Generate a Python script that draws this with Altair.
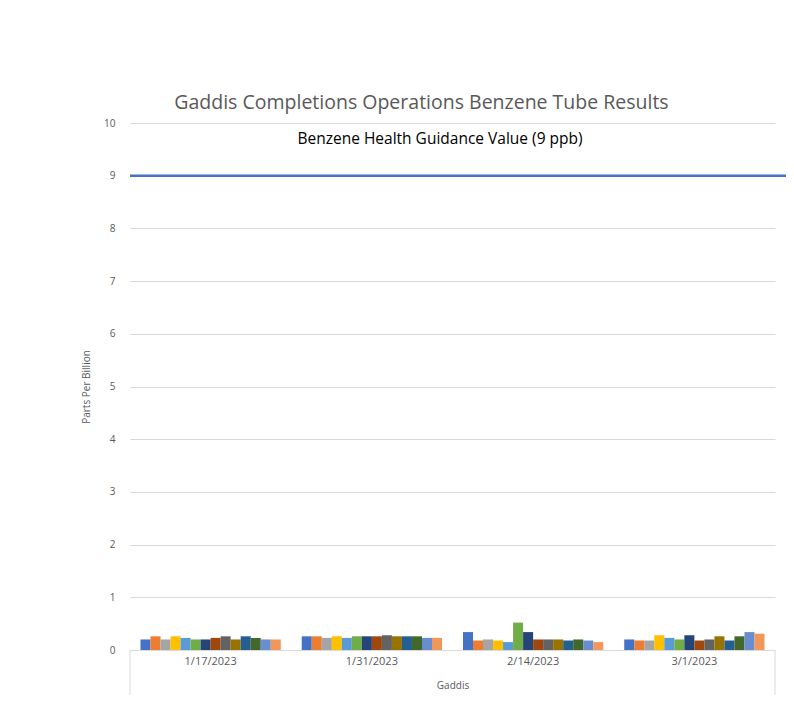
import altair as alt
import pandas as pd

dates = ["1/17/2023", "1/31/2023", "2/14/2023", "3/1/2023"]
series = [f"Tube {i}" for i in range(1, 15)]
colors = ["#4472C4", "#ED7D31", "#A5A5A5", "#FFC000", "#5B9BD5", "#70AD47",
          "#264478", "#9E480E", "#636363", "#997300", "#255E91", "#43682B",
          "#698ED0", "#F1975A"]
vals_0117 = [0.20, 0.26, 0.20, 0.26, 0.23, 0.20, 0.20, 0.23, 0.26, 0.20, 0.26, 0.23, 0.20, 0.20]
vals_0131 = [0.26, 0.26, 0.23, 0.26, 0.23, 0.26, 0.26, 0.26, 0.28, 0.26, 0.26, 0.26, 0.23, 0.23]
vals_0214 = [0.34, 0.18, 0.20, 0.18, 0.15, 0.52, 0.34, 0.20, 0.20, 0.20, 0.18, 0.20, 0.18, 0.15]
vals_0301 = [0.20, 0.18, 0.18, 0.28, 0.23, 0.20, 0.28, 0.18, 0.20, 0.26, 0.18, 0.26, 0.34, 0.31]
guidance_value = 9
guidance_label = "Benzene Health Guidance Value (9 ppb)"
y_ticks = list(range(0, 11))

rows = []
for d, vals in zip(dates, [vals_0117, vals_0131, vals_0214, vals_0301]):
    for s, v in zip(series, vals):
        rows.append({"date": d, "series": s, "ppb": v})
df = pd.DataFrame(rows)

FONT = "Open Sans"
GRAY = "#595959"
W, H = 645, 527

xenc = alt.X("date:N", sort=dates,
             scale=alt.Scale(paddingInner=0.13, paddingOuter=0.065),
             axis=alt.Axis(labelAngle=0, ticks=False, domainColor="#d9d9d9",
                           labelPadding=5, labelFontSize=11, labelColor=GRAY,
                           labelFont=FONT, title="Gaddis", titleFont=FONT,
                           titleFontSize=10, titleFontWeight="normal",
                           titleColor=GRAY, titleY=30))
yenc = alt.Y("ppb:Q", scale=alt.Scale(domain=[0, 10]),
             axis=alt.Axis(values=y_ticks, domain=False, ticks=False,
                           gridColor="#d9d9d9", labelPadding=15,
                           labelFontSize=10, labelColor=GRAY, labelFont=FONT,
                           title="Parts Per Billion", titleFont=FONT,
                           titleFontSize=10, titleFontWeight="normal",
                           titleColor=GRAY, titlePadding=12))

bars = alt.Chart(df).mark_bar().encode(
    x=xenc,
    xOffset=alt.XOffset("series:N", sort=series,
                        scale=alt.Scale(paddingInner=0, paddingOuter=0)),
    y=yenc,
    color=alt.Color("series:N", sort=series,
                    scale=alt.Scale(domain=series, range=colors), legend=None),
)

line9 = alt.Chart().mark_rule(color="#4472C4", strokeWidth=2.5).encode(
    y=alt.datum(guidance_value), x=alt.value(0), x2=alt.value(W + 22))

label = alt.Chart().mark_text(font=FONT, fontSize=15.5, color="#000000").encode(
    y=alt.datum(9.7), x=alt.value(310), text=alt.datum(guidance_label))

edge_l = alt.Chart().mark_rule(color="#d9d9d9").encode(
    x=alt.value(0), y=alt.value(H), y2=alt.value(H + 45))
edge_r = alt.Chart().mark_rule(color="#d9d9d9").encode(
    x=alt.value(W), y=alt.value(H), y2=alt.value(H + 45))

chart = alt.layer(bars, line9, label, edge_l, edge_r).properties(
    width=W, height=H,
    title=alt.TitleParams("Gaddis Completions Operations Benzene Tube Results",
                          font=FONT, fontSize=19.5, fontWeight="normal",
                          color=GRAY, anchor="middle", dx=-31, offset=5),
    autosize=alt.AutoSizeParams(type="none"),
    padding={"left": 122, "top": 115, "right": 11, "bottom": 50},
).configure_view(stroke=None)

chart.save("out.html", embed_options={"renderer": "svg", "actions": False})
